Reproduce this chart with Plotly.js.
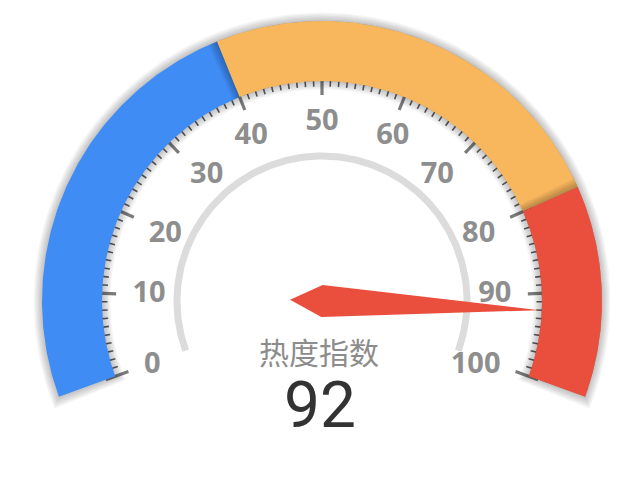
<!DOCTYPE html>
<html>
<head>
<meta charset="utf-8">
<script src="https://cdn.plot.ly/plotly-3.0.1.min.js"></script>
<style>html,body{margin:0;padding:0;background:#fff;}#chart{width:620px;height:483px;}</style>
</head>
<body>
<div id="chart"></div>
<script>
// ---- data ----
const gaugeRange = [0, 100];
const bandStops = [0, 40, 80, 100];
const bandColors = ['#3F8CF5', '#F8B65D', '#EA4F3D'];
const majorTickValues = [0, 10, 20, 30, 40, 50, 60, 70, 80, 90, 100];
const tickLabels = ['0', '10', '20', '30', '40', '50', '60', '70', '80', '90', '100'];
const minorStep = [1];
const gaugeValue = [92];
const gaugeTitle = ['热度指数'];

// ---- geometry / style ----
const START = 200, SPAN = 220;
const R_OUT = 280, R_IN = 220;
const GREY_R = 145, GREY_W = 7;
const LABEL_R = 189;
const toRad = d => d * Math.PI / 180;
function ang(v) { return START - SPAN * (v - gaugeRange[0]) / (gaugeRange[1] - gaugeRange[0]); }
function pt(r, deg) { return [r * Math.cos(toRad(deg)), r * Math.sin(toRad(deg))]; }

function ringPoly(a0, a1, r0, r1) {
  const xs = [], ys = [], n = 160;
  for (let i = 0; i <= n; i++) { const a = a0 + (a1 - a0) * i / n; const p = pt(r1, a); xs.push(p[0]); ys.push(p[1]); }
  for (let i = n; i >= 0; i--) { const a = a0 + (a1 - a0) * i / n; const p = pt(r0, a); xs.push(p[0]); ys.push(p[1]); }
  xs.push(xs[0]); ys.push(ys[0]);
  return { x: xs, y: ys };
}
function fillTrace(poly, color) {
  return { type: 'scatter', mode: 'lines', x: poly.x, y: poly.y, fill: 'toself', fillcolor: color,
           line: { width: 0, color: color }, hoverinfo: 'skip' };
}

const traces = [];

// grey inner arc
traces.push(fillTrace(ringPoly(ang(gaugeRange[0]), ang(gaugeRange[1]), GREY_R - GREY_W / 2, GREY_R + GREY_W / 2), '#DCDCDC'));

// ticks (drawn under the band)
const minX = [], minY = [];
for (let v = gaugeRange[0]; v <= gaugeRange[1]; v += minorStep[0]) {
  if (majorTickValues.indexOf(v) >= 0) continue;
  const a = ang(v); const p0 = pt(214.5, a), p1 = pt(226, a);
  minX.push(p0[0], p1[0], null); minY.push(p0[1], p1[1], null);
}
traces.push({ type: 'scatter', mode: 'lines', x: minX, y: minY, line: { color: '#5e5e5e', width: 1.6 }, hoverinfo: 'skip' });
const majX = [], majY = [];
majorTickValues.forEach(v => { const a = ang(v); const p0 = pt(206, a), p1 = pt(230, a); majX.push(p0[0], p1[0], null); majY.push(p0[1], p1[1], null); });
traces.push({ type: 'scatter', mode: 'lines', x: majX, y: majY, line: { color: '#7a7a7a', width: 3.2 }, hoverinfo: 'skip' });

// soft shadow around the whole ring
const ringA0 = ang(bandStops[0]), ringA1 = ang(bandStops[bandStops.length - 1]);
for (let k = 6; k >= 1; k--) {
  const d = k * 1.4;
  const da = d / 250 * 180 / Math.PI;
  traces.push(fillTrace(ringPoly(ringA0 + da, ringA1 - da, R_IN - d, R_OUT + d), 'rgba(0,0,0,0.04)'));
}
// bands, each casting a shadow onto the previous one
for (let i = 0; i < bandColors.length; i++) {
  const a0 = ang(bandStops[i]), a1 = ang(bandStops[i + 1]);
  if (i > 0) {
    for (let k = 6; k >= 1; k--) {
      const da = k * 1.4 / 250 * 180 / Math.PI;
      traces.push(fillTrace(ringPoly(a0 + da, a1, R_IN, R_OUT), 'rgba(0,0,0,0.045)'));
    }
  }
  traces.push(fillTrace(ringPoly(a0, a1, R_IN, R_OUT), bandColors[i]));
}

// tick labels
const lx = [], ly = [];
majorTickValues.forEach((v, i) => {
  const a = ang(v); const ux = Math.cos(toRad(a)), uy = Math.sin(toRad(a));
  const w = tickLabels[i].length * 16, h = 21;
  let cx = ux * LABEL_R, cy = uy * LABEL_R;
  if (ux < -0.4) cx += w / 2; else if (ux > 0.4) cx -= w / 2;
  if (uy > 0.4) cy -= h / 2; else if (uy < -0.4) cy += h / 2;
  lx.push(cx); ly.push(cy);
});
traces.push({ type: 'scatter', mode: 'text', x: lx, y: ly, text: tickLabels, textposition: 'middle center',
  textfont: { family: 'Open Sans, Noto Sans, sans-serif', size: 29, color: '#8e8e8e', weight: 'bold' }, hoverinfo: 'skip' });

// needle
const na = ang(gaugeValue[0]);
const tip = pt(218, na), s1 = pt(16, na + 90), back = pt(32, na + 180), s2 = pt(16, na - 90);
traces.push({ type: 'scatter', mode: 'lines', x: [tip[0], s1[0], back[0], s2[0], tip[0]], y: [tip[1], s1[1], back[1], s2[1], tip[1]],
  fill: 'toself', fillcolor: bandColors[2], line: { width: 0, color: bandColors[2] }, hoverinfo: 'skip' });

// title and value
traces.push({ type: 'scatter', mode: 'text', x: [-3], y: [-55], text: gaugeTitle, textposition: 'middle center',
  textfont: { family: 'Noto Sans CJK SC, sans-serif', size: 30, color: '#8c8c8c' }, hoverinfo: 'skip' });
traces.push({ type: 'scatter', mode: 'text', x: [-2], y: [-110], text: gaugeValue.map(String), textposition: 'middle center',
  textfont: { family: 'Roboto, Noto Sans, sans-serif', size: 64, color: '#333333' }, hoverinfo: 'skip' });

const layout = {
  width: 620, height: 483,
  margin: { l: 0, r: 0, t: 0, b: 0, pad: 0 },
  paper_bgcolor: '#ffffff', plot_bgcolor: '#ffffff',
  showlegend: false,
  xaxis: { range: [-322, 298], visible: false, fixedrange: true },
  yaxis: { range: [-182, 301], visible: false, fixedrange: true }
};
Plotly.newPlot('chart', traces, layout, { displayModeBar: false, staticPlot: true });
</script>
</body>
</html>
